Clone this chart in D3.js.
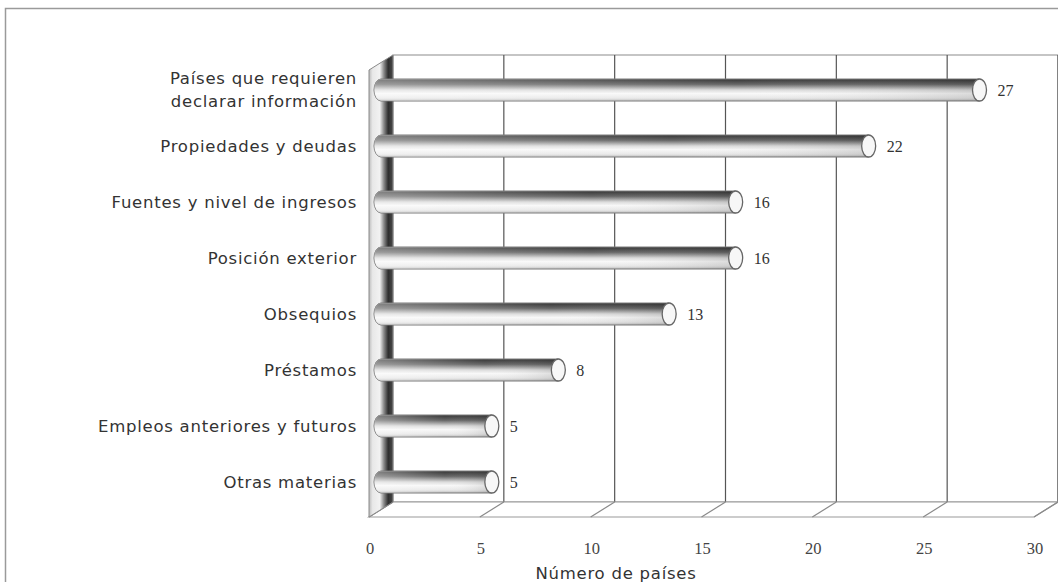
<!DOCTYPE html>
<html>
<head>
<meta charset="utf-8">
<script src="https://cdn.jsdelivr.net/npm/d3@7"></script>
<style>
  html, body { margin: 0; padding: 0; background: #fff; }
  svg { display: block; }
</style>
</head>
<body>
<div id="chart"></div>
<script>
// ── Data ─────────────────────────────────────────────────────────────
const categories = [
  'Países que requieren|declarar información',
  'Propiedades y deudas',
  'Fuentes y nivel de ingresos',
  'Posición exterior',
  'Obsequios',
  'Préstamos',
  'Empleos anteriores y futuros',
  'Otras materias'
];
const values = [27, 22, 16, 16, 13, 8, 5, 5];
const ticks = [0, 5, 10, 15, 20, 25, 30];
const xTitle = 'Número de países';

// ── Layout ───────────────────────────────────────────────────────────
const W = 1058, H = 582;
const DX = -24, DY = 15;           // back plane → front plane offset
const BACK = { x0: 393, x1: 1058, top: 55, bottom: 502 };
const LABEL_FONT = '"DejaVu Sans", sans-serif';
const NUM_FONT = '"Liberation Serif", serif';

const svg = d3.select('#chart').append('svg')
  .attr('width', W).attr('height', H);

const xBack = d3.scaleLinear().domain([0, 30]).range([BACK.x0, BACK.x1]);
const xFront = v => xBack(v) + DX;
const xMid = v => xBack(v) + DX / 2;

const y = d3.scaleBand().domain(categories).range([62, 510]).padding(0);

// ── Defs: gradients ─────────────────────────────────────────────────
const defs = svg.append('defs');

const cyl = defs.append('linearGradient').attr('id', 'cyl')
  .attr('x1', 0).attr('y1', 0).attr('x2', 0).attr('y2', 1);
[[0, '#353535'], [0.24, '#666666'], [0.5, '#dcdcdc'], [0.66, '#f8f8f8'],
 [0.87, '#e8e8e8'], [1, '#bababa']]
  .forEach(([o, c]) => cyl.append('stop').attr('offset', o).attr('stop-color', c));

const shade = defs.append('linearGradient').attr('id', 'shade')
  .attr('x1', 0).attr('y1', 0).attr('x2', 1).attr('y2', 0);
[[0, '#ffffff', 0.35], [0.6, '#ffffff', 0], [1, '#000000', 0.12]]
  .forEach(([o, c, a]) => shade.append('stop').attr('offset', o)
    .attr('stop-color', c).attr('stop-opacity', a));

const wall = defs.append('linearGradient').attr('id', 'wall')
  .attr('x1', 0).attr('y1', 0).attr('x2', 1).attr('y2', 0);
[[0, '#bdbdbd'], [0.15, '#e8e8e8'], [0.45, '#f2f2f2'], [0.62, '#8a8a8a'],
 [0.8, '#2e2e2e'], [1, '#4a4a4a']]
  .forEach(([o, c]) => wall.append('stop').attr('offset', o).attr('stop-color', c));

// ── Outer frame ─────────────────────────────────────────────────────
svg.append('path')
  .attr('d', `M5.5,${H}V8.5H${W}`)
  .attr('fill', 'none').attr('stroke', '#9a9a9a').attr('stroke-width', 1.5);

// ── Back wall + grid ────────────────────────────────────────────────
svg.append('rect')
  .attr('x', BACK.x0).attr('y', BACK.top)
  .attr('width', BACK.x1 - BACK.x0).attr('height', BACK.bottom - BACK.top)
  .attr('fill', '#fff').attr('stroke', '#8c8c8c').attr('stroke-width', 1);

svg.append('g').selectAll('line')
  .data(ticks.filter(t => t > 0))
  .join('line')
    .attr('x1', d => xBack(d)).attr('x2', d => xBack(d))
    .attr('y1', BACK.top).attr('y2', BACK.bottom)
    .attr('stroke', '#555').attr('stroke-width', 1.2);

// ── Floor ───────────────────────────────────────────────────────────
svg.append('path')
  .attr('d', `M${xBack(0)},${BACK.bottom}H${xBack(30)}L${xFront(30)},${BACK.bottom + DY}H${xFront(0)}Z`)
  .attr('fill', '#fff').attr('stroke', '#9a9a9a').attr('stroke-width', 1.2);

svg.append('g').selectAll('line')
  .data(ticks)
  .join('line')
    .attr('x1', d => xBack(d)).attr('y1', BACK.bottom)
    .attr('x2', d => xFront(d)).attr('y2', BACK.bottom + DY)
    .attr('stroke', '#8a8a8a').attr('stroke-width', 1.2);

// ── Left wall ───────────────────────────────────────────────────────
svg.append('path')
  .attr('d', `M${xFront(0)},${BACK.bottom + DY}V${BACK.top + DY}L${xBack(0)},${BACK.top}V${BACK.bottom}Z`)
  .attr('fill', 'url(#wall)').attr('stroke', '#8a8a8a').attr('stroke-width', 1);

// ── Cylinder bars ───────────────────────────────────────────────────
const R = 11;     // cylinder radius (vertical)
const CAP = 7;    // end-cap horizontal radius

const bodyPath = d => {
  const cy = y(d.c) + y.bandwidth() / 2;
  const x0 = xMid(0), x1 = xMid(d.v);
  return `M${x1},${cy - R}H${x0}A${CAP},${R} 0 0 0 ${x0},${cy + R}H${x1}Z`;
};

const bars = svg.append('g').selectAll('g.bar')
  .data(categories.map((c, i) => ({ c, v: values[i] })))
  .join('g').attr('class', 'bar');

bars.append('path').attr('d', bodyPath)
  .attr('fill', 'url(#cyl)').attr('stroke', '#7a7a7a').attr('stroke-width', 1);

bars.append('path').attr('d', bodyPath).attr('fill', 'url(#shade)');

bars.append('ellipse')
  .attr('cx', d => xMid(d.v))
  .attr('cy', d => y(d.c) + y.bandwidth() / 2)
  .attr('rx', CAP).attr('ry', R)
  .attr('fill', '#f7f7f7').attr('stroke', '#666').attr('stroke-width', 1.3);

bars.append('text')
  .attr('x', d => xMid(d.v) + CAP + 11)
  .attr('y', d => y(d.c) + y.bandwidth() / 2)
  .attr('dy', '0.35em')
  .attr('font-family', NUM_FONT)
  .attr('font-size', 16).attr('fill', '#333')
  .text(d => d.v);

// ── Category labels ─────────────────────────────────────────────────
svg.append('g').selectAll('text')
  .data(categories)
  .join('text')
    .attr('x', 357)
    .attr('y', d => y(d) + y.bandwidth() / 2)
    .attr('text-anchor', 'end')
    .attr('font-family', LABEL_FONT)
    .attr('font-size', 16.5).attr('letter-spacing', 0.75).attr('fill', '#333')
    .each(function (d) {
      const lines = d.split('|');
      const t = d3.select(this);
      lines.forEach((ln, i) => {
        t.append('tspan')
          .attr('x', 357)
          .attr('dy', i === 0 ? `${0.35 - (lines.length - 1) * 0.7}em` : '1.4em')
          .text(ln);
      });
    });

// ── X tick labels + title ───────────────────────────────────────────
svg.append('g').selectAll('text')
  .data(ticks)
  .join('text')
    .attr('x', d => xFront(d) + 1)
    .attr('y', 548)
    .attr('dy', '0.35em')
    .attr('text-anchor', 'middle')
    .attr('font-family', NUM_FONT)
    .attr('font-size', 16.5).attr('fill', '#444')
    .text(d => d);

svg.append('text')
  .attr('x', 616).attr('y', 573)
  .attr('dy', '0.35em')
  .attr('text-anchor', 'middle')
  .attr('font-family', LABEL_FONT)
  .attr('font-size', 16.5).attr('letter-spacing', 0.75).attr('fill', '#333')
  .text(xTitle);
</script>
</body>
</html>
